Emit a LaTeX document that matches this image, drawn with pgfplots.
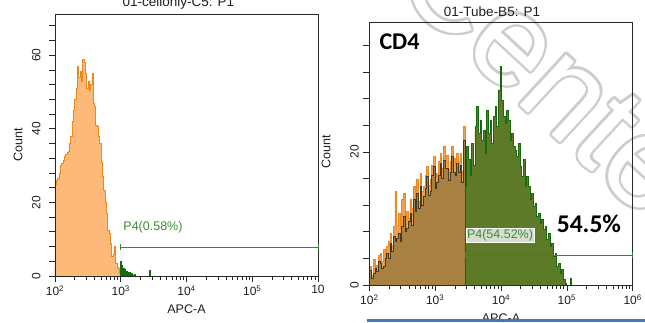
\documentclass[border=0pt]{standalone}
\usepackage{pgfplots}
\usepackage{pgfplotstable}
\pgfplotsset{compat=1.18}
\usepackage{fontspec}
\setmainfont{Liberation Sans}
\newfontfamily\calfont{Carlito}
\usepackage{contour}
\contourlength{2.4pt}

\definecolor{axcol}{RGB}{40,40,40}
\definecolor{labcol}{RGB}{30,30,30}
\definecolor{orFillL}{RGB}{252,185,120}
\definecolor{orLine}{RGB}{240,135,30}
\definecolor{orFillR}{RGB}{238,160,80}
\definecolor{brownFill}{RGB}{168,128,66}
\definecolor{darkLine}{RGB}{70,58,28}
\definecolor{olive}{RGB}{92,122,40}
\definecolor{dgreen}{RGB}{25,105,15}
\definecolor{gatecol}{RGB}{50,135,50}
\definecolor{gatebox}{RGB}{228,235,225}
\definecolor{gatetext}{RGB}{60,140,60}
\definecolor{barblue}{RGB}{68,120,190}
\definecolor{wm}{RGB}{205,205,205}

% left panel: unstained control (log10 APC-A, count)
\pgfplotstableread{
x y
2.000 46
2.006 25
2.020 26
2.040 26.5
2.060 28
2.080 30
2.100 30.6
2.120 31.5
2.140 32.4
2.160 33
2.180 33.5
2.200 34
2.220 36
2.240 38
2.260 42
2.280 45
2.300 48
2.320 51
2.340 57
2.360 54
2.380 55.5
2.400 53
2.420 58.9
2.440 58
2.460 55
2.480 51
2.500 53
2.520 50.5
2.540 52
2.560 55
2.580 47
2.600 46
2.620 41
2.640 40.8
2.660 38
2.680 36
2.700 31
2.720 27
2.740 23.4
2.760 20
2.780 17
2.800 12.5
2.820 11.6
2.840 9
2.860 5.3
2.880 6
2.900 8
2.920 3.4
2.940 2.5
2.960 2
2.980 0.7
3.000 0.7
}\leftorange

\pgfplotstableread{
x y
3.000 4
3.010 3
3.020 2.5
3.030 2
3.040 2.2
3.050 1.5
3.060 1.8
3.070 1.2
3.080 1.0
3.090 1.3
3.100 0.8
3.120 1.0
3.140 0.5
3.160 0.8
3.180 0.3
3.200 0.5
3.220 0
3.440 1.5
3.450 0
}\leftgreen

% right panel: overlay control (orange)
\pgfplotstableread{
x y
2.010 2.8
2.035 1.5
2.061 3.8
2.086 2.5
2.111 3.0
2.137 4.5
2.162 4.8
2.187 3.5
2.213 5.3
2.238 4.0
2.263 5.8
2.289 6.5
2.314 7.8
2.339 6.0
2.365 8.8
2.390 14.0
2.415 9.0
2.441 10.8
2.466 8.5
2.491 12.8
2.516 13.8
2.542 9.5
2.567 11.0
2.592 10.0
2.618 12.8
2.643 11.5
2.668 14.8
2.694 13.0
2.719 15.8
2.744 12.5
2.770 16.8
2.795 14.0
2.820 14.8
2.846 16.5
2.871 17.8
2.896 15.0
2.922 15.8
2.947 18.0
2.972 19.3
2.997 16.0
3.023 16.8
3.048 18.5
3.073 19.8
3.099 17.5
3.124 20.8
3.149 19.0
3.175 19.5
3.200 17.3
3.225 18.5
3.251 20.8
3.276 19.0
3.301 18.0
3.327 19.8
3.352 18.5
3.377 19.8
3.403 17.0
3.428 23.8
3.453 23.8
}\rightorange

% right panel: CD4 sample, outside gate
\pgfplotstableread{
x y
2.000 19.3
2.006 2.2
2.035 1.0
2.061 1.8
2.086 2.5
2.111 2.0
2.137 3.5
2.162 3.3
2.187 2.5
2.213 2.8
2.238 4.0
2.263 4.8
2.289 4.0
2.314 6.3
2.339 5.0
2.365 7.3
2.390 6.5
2.415 7.0
2.441 7.8
2.466 6.5
2.491 8.8
2.516 10.3
2.542 8.0
2.567 8.5
2.592 9.5
2.618 10.8
2.643 9.0
2.668 12.8
2.694 11.0
2.719 13.8
2.744 11.5
2.770 14.8
2.795 12.0
2.820 13.3
2.846 14.5
2.871 16.3
2.896 13.5
2.922 14.0
2.947 16.5
2.972 17.8
2.997 14.5
3.023 15.5
3.048 16.5
3.073 18.3
3.099 16.0
3.124 18.8
3.149 17.5
3.175 17.5
3.200 15.8
3.225 17.0
3.251 19.3
3.276 17.0
3.301 16.5
3.327 18.3
3.352 17.0
3.377 18.0
3.403 15.5
3.428 21.8
3.453 21.8
}\rightdark

% right panel: CD4 sample, inside gate P4
\pgfplotstableread{
x y
3.453 14.8
3.478 20.8
3.504 18.8
3.529 16.5
3.554 21.3
3.580 18.0
3.605 23.8
3.630 26.8
3.656 22.8
3.681 24.8
3.706 21.8
3.732 23.3
3.757 19.8
3.782 26.3
3.808 22.8
3.833 24.8
3.858 21.3
3.884 25.3
3.909 26.8
3.934 23.8
3.960 29.3
3.985 32.8
4.010 27.8
4.035 25.3
4.061 24.3
4.086 26.3
4.111 24.8
4.137 21.8
4.162 22.8
4.187 20.8
4.213 20.3
4.238 19.3
4.263 21.3
4.289 17.8
4.314 16.3
4.339 18.8
4.365 14.8
4.390 16.3
4.415 14.8
4.441 12.8
4.466 13.8
4.491 11.8
4.516 12.3
4.542 10.3
4.567 10.8
4.592 9.3
4.618 9.8
4.643 8.3
4.668 8.8
4.694 6.8
4.719 7.8
4.744 5.8
4.770 6.3
4.795 4.3
4.820 4.8
4.846 2.8
4.871 3.3
4.896 1.8
4.922 2.3
4.947 0.8
4.972 0.3
4.997 0
5.023 0
5.048 1.0
5.073 0
}\rightgreen

\pgfplotsset{
  flowaxis/.style={
    anchor=south west, scale only axis,
    xmin=2, xmax=6, ymin=0,
    axis on top,
    axis line style={draw=axcol, line width=0.8pt},
    tick pos=left, tick align=outside,
    major tick length=6pt, minor tick length=3.5pt,
    tick style={draw=axcol, line width=0.7pt},
    xtick={2,3,4,5,6},
    minor xtick={2.30103,2.47712,2.60206,2.69897,2.77815,2.84510,2.90309,2.95424,
                 3.30103,3.47712,3.60206,3.69897,3.77815,3.84510,3.90309,3.95424,
                 4.30103,4.47712,4.60206,4.69897,4.77815,4.84510,4.90309,4.95424,
                 5.30103,5.47712,5.60206,5.69897,5.77815,5.84510,5.90309,5.95424},
    ticklabel style={font=\fontsize{12}{13}\selectfont, text=labcol},
    yticklabel style={rotate=90, anchor=south},
    /pgf/number format/assume math mode=true,
    xlabel={APC-A},
    label style={font=\fontsize{12.5}{13}\selectfont, text=labcol},
  }
}

\begin{document}
\begin{tikzpicture}[x=1pt,y=1pt]
\path[use as bounding box] (0,0) rectangle (645,322);
\clip (0,0) rectangle (645,322);

% watermark
\node[rotate=-42.7, anchor=base, inner sep=0pt,
      font=\fontsize{130}{130}\selectfont] at (519,218)
      {\contour{wm}{\textcolor{white}{Cente}}};

% ---------------- left panel ----------------
\begin{axis}[flowaxis,
  at={(55pt,46pt)}, width=263pt, height=262pt,
  ymax=71.2,
  xticklabels={10\textsuperscript{2},10\textsuperscript{3},10\textsuperscript{4},10\textsuperscript{5},10},
  ytick={0,4,...,68},
  yticklabels={0,,,,,20,,,,,40,,,,,60,,},
  yticklabel shift=5pt,
  xlabel style={at={(axis description cs:0.5,0)}, anchor=center, yshift=-33.5pt},
  ylabel={Count},
  ylabel style={at={(axis description cs:-0.1407,0.5)}, anchor=center},
]
\addplot[const plot, fill=orFillL, draw=orLine, line width=0.6pt] table {\leftorange} \closedcycle;
\addplot[const plot, fill=dgreen, draw=dgreen, line width=0.5pt] coordinates {(2.000,2.5) (2.006,2.5)} \closedcycle;
\addplot[const plot, fill=dgreen, draw=dgreen, line width=0.6pt] table {\leftgreen} \closedcycle;
\addplot[gatecol, line width=0.8pt, mark=|, mark size=3pt, mark options={line width=0.8pt}] coordinates {(3,7.9) (6,7.9)};
\node[text=gatetext, font=\fontsize{12.5}{12.5}\selectfont] at (axis cs:3.49,13.2) {P4(0.58\%)};
\end{axis}

% ---------------- right panel ----------------
\begin{axis}[flowaxis,
  at={(369.3pt,37pt)}, width=263.4pt, height=262.3pt,
  ymax=39.4,
  xticklabels={10\textsuperscript{2},10\textsuperscript{3},10\textsuperscript{4},10\textsuperscript{5},10\textsuperscript{6}},
  ytick={0,4,...,36},
  yticklabels={0,,,,,20,,,,},
  yticklabel shift=1pt,
  xlabel style={at={(axis description cs:0.5,0)}, anchor=center, yshift=-33.5pt},
  ylabel={Count},
  ylabel style={at={(axis description cs:-0.1644,0.508)}, anchor=center},
]
\addplot[const plot, fill=orFillR, draw=orLine, line width=0.7pt] table {\rightorange} \closedcycle;
\addplot[const plot, fill=brownFill, draw=darkLine, line width=0.6pt] table {\rightdark} \closedcycle;
\addplot[const plot, fill=olive, draw=dgreen, line width=0.7pt] table {\rightgreen} \closedcycle;
\addplot[gatecol, line width=0.8pt, mark=|, mark size=3pt, mark options={line width=0.8pt}] coordinates {(3.453,4.5) (6,4.5)};
\node[fill=gatebox, fill opacity=0.9, text opacity=1, text=gatetext, inner sep=1.2pt,
      draw=white, line width=0.6pt,
      font=\fontsize{12.5}{12.5}\selectfont] at (axis cs:3.985,7.5) {P4(54.52\%)};
\node[font=\calfont\bfseries\fontsize{24}{24}\selectfont, text=black] at (axis cs:2.459,36.6) {CD4};
\node[font=\calfont\bfseries\fontsize{25.5}{25.5}\selectfont, text=black] at (axis cs:5.336,9.15) {54.5\%};
\end{axis}

% titles
\node[anchor=base, text=labcol, font=\fontsize{13.5}{14}\selectfont] at (178.5,315) {01-cellonly-C5: P1};
\node[anchor=base, text=labcol, font=\fontsize{13.5}{14}\selectfont] at (492,305.5) {01-Tube-B5: P1};

% blue bar at the bottom of the right panel
\fill[barblue] (367.3,0) rectangle (645,3);
\end{tikzpicture}
\end{document}
